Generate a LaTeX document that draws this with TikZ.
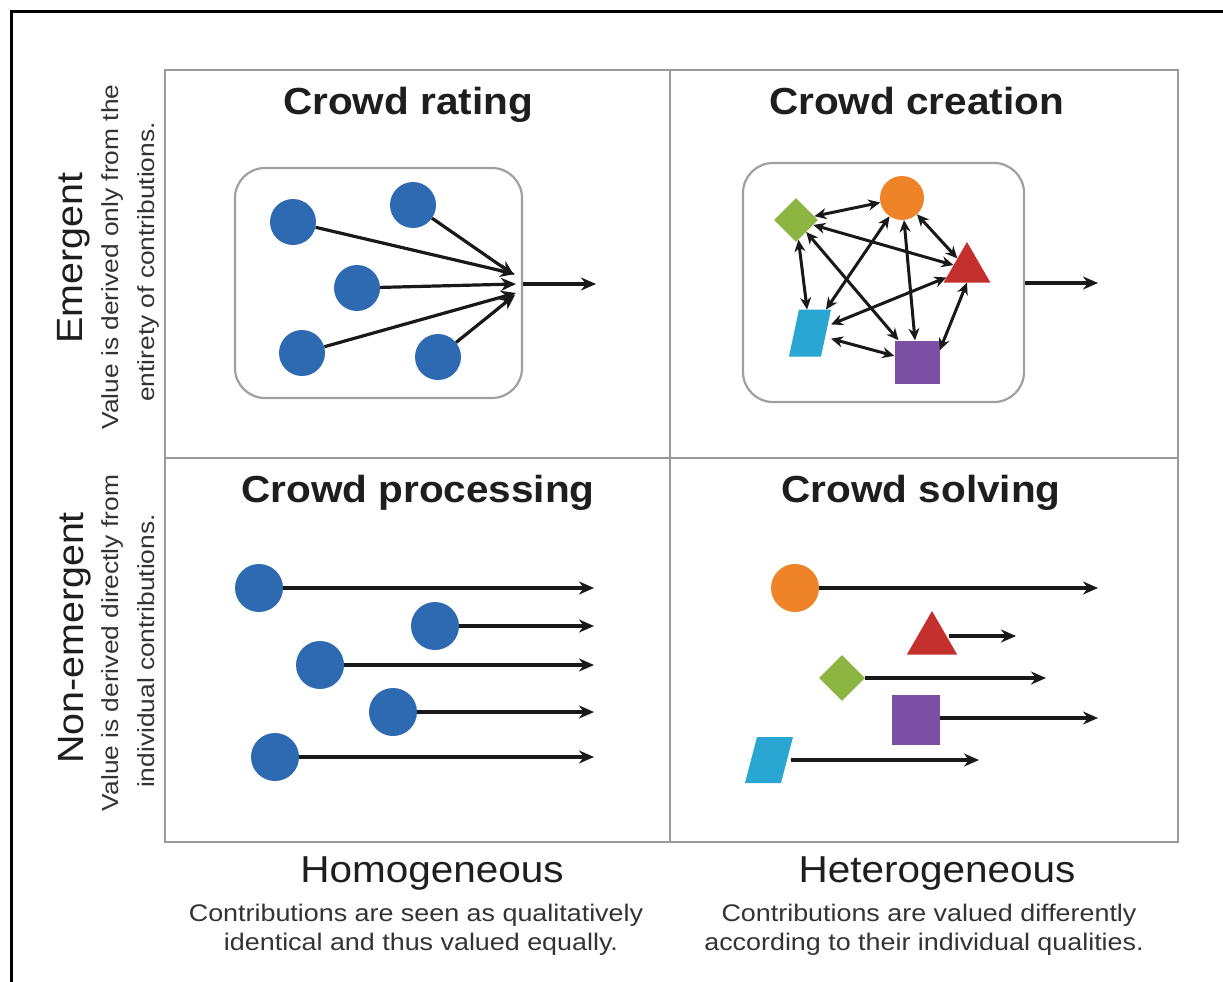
\documentclass[tikz,border=0pt]{standalone}
\usepackage{fontspec}
\setmainfont{Liberation Sans}
\usetikzlibrary{arrows.meta,shapes.geometric}
\definecolor{gridgray}{HTML}{9A9A9A}
\definecolor{boxgray}{HTML}{A0A0A0}
\definecolor{dotblue}{HTML}{2E6AB2}
\definecolor{shorange}{HTML}{EE8427}
\definecolor{shgreen}{HTML}{8CB641}
\definecolor{shred}{HTML}{C4302E}
\definecolor{shcyan}{HTML}{2AA6D3}
\definecolor{shpurple}{HTML}{7B4FA3}
\definecolor{txtdark}{HTML}{1E1E1E}
\definecolor{txtsub}{HTML}{333333}
\newcommand{\TitleTxt}[1]{\scalebox{1.075}[1]{\fontsize{37.7}{40}\selectfont\bfseries #1}}
\newcommand{\HeadTxt}[1]{\scalebox{1.08}[1]{\fontsize{37.5}{40}\selectfont #1}}
\newcommand{\VHeadTxt}[1]{\scalebox{1.08}[1]{\fontsize{36.5}{40}\selectfont #1}}
\newcommand{\SmallTxt}[1]{\scalebox{1.12}[1]{\fontsize{24}{28}\selectfont #1}}
\newcommand{\VSmallTxt}[1]{\scalebox{1.13}[1]{\fontsize{23.3}{28}\selectfont #1}}
\begin{document}
\begin{tikzpicture}[x=1pt,y=-1pt,
  lbl/.style={anchor=base,inner sep=0pt,text=txtdark},
  sub/.style={text=txtsub},
  gridline/.style={draw=gridgray,line width=2.6pt},
  ibox/.style={draw=boxgray,line width=2.2pt,rounded corners=30pt,inner sep=0pt},
  dot/.style={circle,fill=dotblue,inner sep=0pt,minimum size=#1},
  arr/.style={draw=black!90,line width=3.2pt,-{Stealth[length=15pt,width=13pt]}},
  darr/.style={draw=black!90,line width=3pt,{Stealth[length=12pt,width=11pt]}-{Stealth[length=12pt,width=11pt]}},
  ghost/.style={inner sep=0pt,outer sep=0pt}
]
\useasboundingbox (0,0) rectangle (1223,982);
\fill[white] (0,0) rectangle (1223,982);
% outer frame (top and left)
\draw[line width=3pt,black] (11.5,982) -- (11.5,11.5) -- (1223,11.5);
% grid
\draw[gridline] (165,70) rectangle (1178,842);
\draw[gridline] (670,70) -- (670,842);
\draw[gridline] (165,458) -- (1178,458);

% titles
\node[lbl] (t1) at (408,114) {\TitleTxt{Crowd rating}};
\node[lbl] (t2) at (916.5,114) {\TitleTxt{Crowd creation}};
\node[lbl] (t3) at (418,502) {\TitleTxt{Crowd processing}};
\node[lbl] (t4) at (921,502) {\TitleTxt{Crowd solving}};
% bottom axis
\node[lbl] (h1) at (432,882) {\HeadTxt{Homogeneous}};
\node[lbl] (h2) at (937,882) {\HeadTxt{Heterogeneous}};
\node[lbl,sub] (h1a) at (416,921) {\SmallTxt{Contributions are seen as qualitatively}};
\node[lbl,sub] (h1b) at (421,950) {\SmallTxt{identical and thus valued equally.}};
\node[lbl,sub] (h2a) at (929,921) {\SmallTxt{Contributions are valued differently}};
\node[lbl,sub] (h2b) at (924,950) {\SmallTxt{according to their individual qualities.}};
% left axis
\node[lbl,rotate=90] (v1) at (82,258) {\VHeadTxt{Emergent}};
\node[lbl,sub,rotate=90] (v1a) at (118,257) {\VSmallTxt{Value is derived only from the}};
\node[lbl,sub,rotate=90] (v1b) at (154,262) {\VSmallTxt{entirety of contributions.}};
\node[lbl,rotate=90] (v2) at (83,638) {\VHeadTxt{Non-emergent}};
\node[lbl,sub,rotate=90] (v2a) at (118,643) {\VSmallTxt{Value is derived directly from}};
\node[lbl,sub,rotate=90] (v2b) at (154,651) {\VSmallTxt{individual contributions.}};

% ---------- Crowd rating ----------
\node[ibox,minimum width=287pt,minimum height=230pt] (box1) at (378.5,283) {};
\node[dot=46pt] (c1) at (293,222) {};
\node[dot=46pt] (c2) at (413,205) {};
\node[dot=46pt] (c3) at (357,288) {};
\node[dot=46pt] (c4) at (302,353) {};
\node[dot=46pt] (c5) at (438,357) {};
\coordinate (k1) at (515,274);
\coordinate (k2) at (514,275);
\coordinate (k3) at (516,284);
\coordinate (k4) at (516,293);
\coordinate (k5) at (515,295);
\draw[arr] (c1) -- (k1);
\draw[arr] (c2) -- (k2);
\draw[arr] (c3) -- (k3);
\draw[arr] (c4) -- (k4);
\draw[arr] (c5) -- (k5);
\coordinate (out1) at (596,284);
\draw[arr] (box1.east |- out1) -- (out1);

% ---------- Crowd creation ----------
\node[ibox,minimum width=281pt,minimum height=239pt] (box2) at (883.5,282.5) {};
\node[circle,fill=shorange,inner sep=0pt,minimum size=44pt] (o1) at (902,198) {};
\node[diamond,fill=shgreen,inner sep=0pt,minimum width=44pt,minimum height=44pt] (g1) at (796,220) {};
\node[regular polygon,regular polygon sides=3,fill=shred,inner sep=0pt,minimum size=54pt] (r1) at (967,269) {};
\node[ghost,minimum width=42pt,minimum height=47pt] (p1) at (810,333) {};
\fill[shcyan,shift={(p1)}] (-21,23.5) -- (11,23.5) -- (21,-23.5) -- (-11,-23.5) -- cycle;
\node[rectangle,fill=shpurple,inner sep=0pt,minimum width=45pt,minimum height=43pt] (q1) at (917,362) {};
\draw[darr] (o1) -- (g1);
\draw[darr] (g1) -- (r1);
\draw[darr] (o1) -- (r1);
\draw[darr] (o1) -- (q1);
\draw[darr] (o1) -- (p1);
\draw[darr] (g1) -- (p1);
\draw[darr] (g1) -- (q1);
\draw[darr] (r1) -- (p1);
\draw[darr] (r1.south) -- ([yshift=-10pt]q1.north east);
\draw[darr] (p1) -- (q1);
\coordinate (out2) at (1098,283);
\draw[arr] (box2.east |- out2) -- (out2);

% ---------- Crowd processing ----------
\node[dot=48pt] (d1) at (259,588) {};
\node[dot=48pt] (d2) at (435,626) {};
\node[dot=48pt] (d3) at (320,665) {};
\node[dot=48pt] (d4) at (393,712) {};
\node[dot=48pt] (d5) at (275,757) {};
\coordinate (f1) at (594,588);
\coordinate (f2) at (594,626);
\coordinate (f3) at (594,665);
\coordinate (f4) at (594,712);
\coordinate (f5) at (594,757);
\draw[arr] (d1) -- (f1);
\draw[arr] (d2) -- (f2);
\draw[arr] (d3) -- (f3);
\draw[arr] (d4) -- (f4);
\draw[arr] (d5) -- (f5);

% ---------- Crowd solving ----------
\node[circle,fill=shorange,inner sep=0pt,minimum size=48pt] (o2) at (795,588) {};
\node[regular polygon,regular polygon sides=3,fill=shred,inner sep=0pt,minimum size=58pt] (r2) at (932,640) {};
\node[diamond,fill=shgreen,inner sep=0pt,minimum width=46pt,minimum height=46pt] (g2) at (842,678) {};
\node[rectangle,fill=shpurple,inner sep=0pt,minimum width=48pt,minimum height=50pt] (q2) at (916,720) {};
\node[ghost,minimum width=44pt,minimum height=46pt] (p2) at (769,760) {};
\fill[shcyan,shift={(p2)}] (-24,23) -- (12,23) -- (24,-23) -- (-12,-23) -- cycle;
\coordinate (e1) at (1098,588);
\coordinate (e2) at (1016,636);
\coordinate (e3) at (1046,678);
\coordinate (e4) at (1098,718);
\coordinate (e5) at (979,760);
\draw[arr] (o2) -- (e1);
\draw[arr] (r2.east |- e2) -- (e2);
\draw[arr] (g2) -- (e3);
\draw[arr] (q2.east |- e4) -- (e4);
\draw[arr] (p2) -- (e5);
\end{tikzpicture}
\end{document}
